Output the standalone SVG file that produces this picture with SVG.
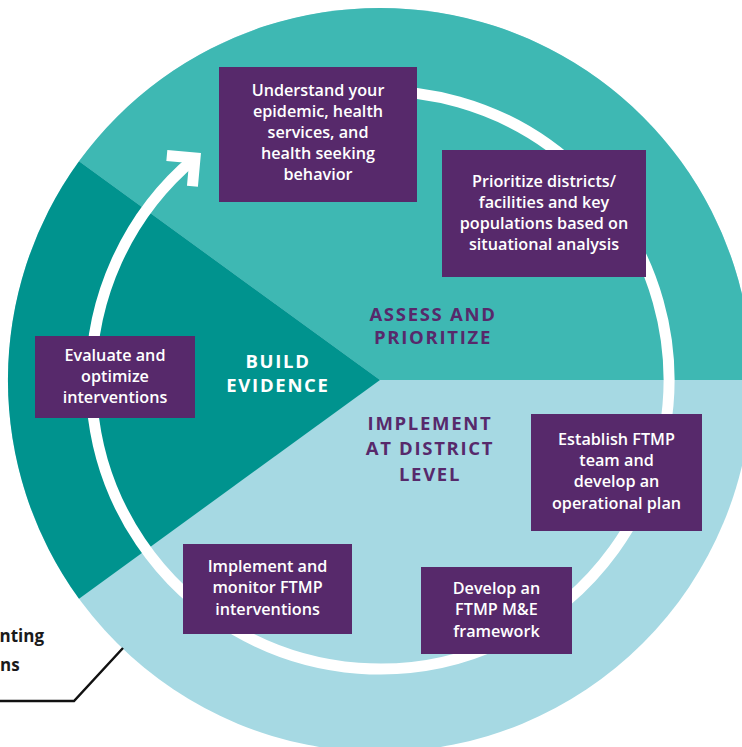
<svg xmlns="http://www.w3.org/2000/svg" width="742" height="747" viewBox="0 0 742 747">
<defs>
<style>
.box{fill:#57296B}
.bt{fill:#fff;font-family:"Open Sans","Noto Sans",sans-serif;font-weight:600;font-size:16.2px;text-anchor:middle}
.lbl{font-family:"Open Sans","Noto Sans",sans-serif;font-weight:700;font-size:18.5px;letter-spacing:1.7px;text-anchor:middle}
.ring{fill:none;stroke:#fff;stroke-width:11}
.co{font-family:"Open Sans","Noto Sans",sans-serif;font-weight:700;font-size:17px;fill:#1a1a1a}
</style>
<marker id="chev" markerUnits="userSpaceOnUse" viewBox="-40 -40 80 80" markerWidth="80" markerHeight="80" refX="0" refY="0" orient="auto" overflow="visible">
<path d="M-20,-20 L0,0 L-20,20" fill="none" stroke="#fff" stroke-width="11" stroke-linejoin="miter"/>
</marker>
</defs>
<rect width="742" height="747" fill="#fff"/>
<g id="wheel">
<circle cx="380" cy="380" r="372" fill="#A6D9E3"/>
<path d="M380,380 L79,161.3 A372,372 0 0 1 752,380 Z" fill="#3EB8B3"/>
<path d="M380,380 L79,598.7 A372,372 0 0 1 79,161.3 Z" fill="#00938E"/>
</g>
<g id="connectors">
<path class="ring" d="M329.8,95.4 A289,289 0 1 1 195,158" marker-end="url(#chev)"/>
<polyline points="0,701 74,701 123,648" fill="none" stroke="#111" stroke-width="2.5"/>
</g>
<g id="phase-labels">
<text class="lbl" fill="#fff" x="278" y="368">BUILD</text>
<text class="lbl" fill="#fff" x="278" y="392">EVIDENCE</text>
<text class="lbl" fill="#57296B" x="433" y="321">ASSESS AND</text>
<text class="lbl" fill="#57296B" x="433" y="344">PRIORITIZE</text>
<text class="lbl" fill="#57296B" x="430" y="430">IMPLEMENT</text>
<text class="lbl" fill="#57296B" x="430" y="455">AT DISTRICT</text>
<text class="lbl" fill="#57296B" x="430" y="481">LEVEL</text>
</g>
<g id="n1">
<rect class="box" x="219" y="67" width="198" height="135"/>
<text class="bt" x="318" y="96">Understand your</text>
<text class="bt" x="318" y="117">epidemic, health</text>
<text class="bt" x="318" y="138">services, and</text>
<text class="bt" x="318" y="159">health seeking</text>
<text class="bt" x="318" y="180">behavior</text>
</g>
<g id="n2">
<rect class="box" x="442" y="150" width="204" height="127"/>
<text class="bt" x="544" y="187">Prioritize districts/</text>
<text class="bt" x="544" y="208">facilities and key</text>
<text class="bt" x="544" y="229">populations based on</text>
<text class="bt" x="544" y="250">situational analysis</text>
</g>
<g id="n3">
<rect class="box" x="35" y="336" width="160" height="82"/>
<text class="bt" x="115" y="361">Evaluate and</text>
<text class="bt" x="115" y="382">optimize</text>
<text class="bt" x="115" y="403">interventions</text>
</g>
<g id="n4">
<rect class="box" x="531" y="414" width="171" height="117"/>
<text class="bt" x="616.5" y="445">Establish FTMP</text>
<text class="bt" x="616.5" y="466">team and</text>
<text class="bt" x="616.5" y="487">develop an</text>
<text class="bt" x="616.5" y="509">operational plan</text>
</g>
<g id="n5">
<rect class="box" x="183" y="544" width="169" height="90"/>
<text class="bt" x="267.5" y="572">Implement and</text>
<text class="bt" x="267.5" y="593">monitor FTMP</text>
<text class="bt" x="267.5" y="615">interventions</text>
</g>
<g id="n6">
<rect class="box" x="421" y="567" width="151" height="87"/>
<text class="bt" x="496.5" y="594">Develop an</text>
<text class="bt" x="496.5" y="615">FTMP M&amp;E</text>
<text class="bt" x="496.5" y="637">framework</text>
</g>
<g id="callout">
<text class="co" x="44" y="642" text-anchor="end">nting</text>
<text class="co" x="0" y="671">ns</text>
</g>
</svg>
